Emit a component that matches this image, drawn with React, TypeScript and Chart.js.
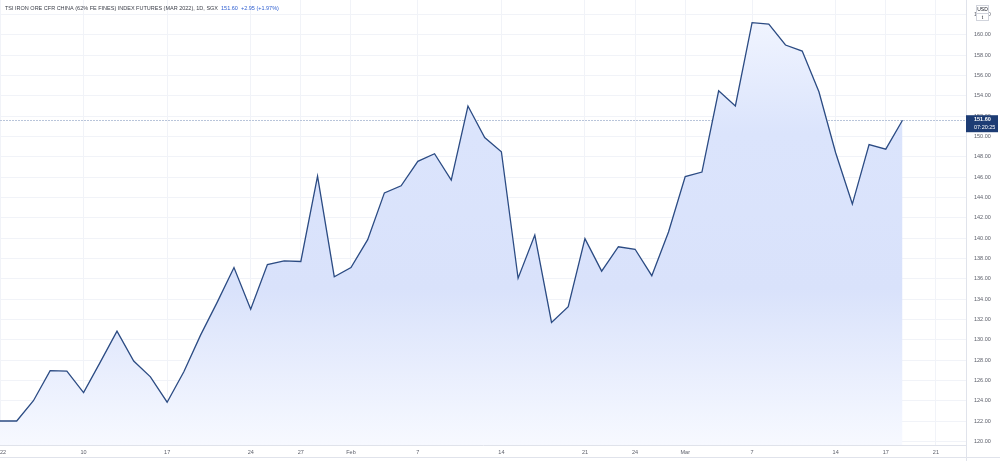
import React, { useEffect, useRef } from "react";
import { Chart, registerables } from "chart.js";

Chart.register(...registerables);

// ---- data ----
const tradingDays: string[] = [
  "Jan 3", "Jan 4", "Jan 5", "Jan 6", "Jan 7",
  "Jan 10", "Jan 11", "Jan 12", "Jan 13", "Jan 14",
  "Jan 17", "Jan 18", "Jan 19", "Jan 20", "Jan 21",
  "Jan 24", "Jan 25", "Jan 26", "Jan 27", "Jan 28",
  "Jan 31", "Feb 1", "Feb 2", "Feb 3", "Feb 4",
  "Feb 7", "Feb 8", "Feb 9", "Feb 10", "Feb 11",
  "Feb 14", "Feb 15", "Feb 16", "Feb 17", "Feb 18",
  "Feb 21", "Feb 22", "Feb 23", "Feb 24", "Feb 25",
  "Feb 28", "Mar 1", "Mar 2", "Mar 3", "Mar 4",
  "Mar 7", "Mar 8", "Mar 9", "Mar 10", "Mar 11",
  "Mar 14", "Mar 15", "Mar 16", "Mar 17", "Mar 18",
];
const closePrices: number[] = [
  122.0, 122.0, 124.0, 126.95, 126.9,
  124.8, 127.8, 130.85, 127.9, 126.35,
  123.85, 126.85, 130.45, 133.7, 137.1,
  133.0, 137.4, 137.75, 137.7, 146.1,
  136.2, 137.1, 139.85, 144.45, 145.15,
  147.55, 148.3, 145.7, 153.0, 149.9,
  148.5, 136.05, 140.3, 131.7, 133.25,
  139.95, 136.75, 139.15, 138.9, 136.3,
  140.6, 146.05, 146.5, 154.5, 153.0,
  161.2, 161.05, 159.0, 158.4, 154.4,
  148.4, 143.35, 149.2, 148.75, 151.6,
];
const xTickIndex: number[] = [0, 5, 10, 15, 18, 21, 25, 30, 35, 38, 41, 45, 50, 53, 56];
const xTickLabels: string[] = ["2022", "10", "17", "24", "27", "Feb", "7", "14", "21", "24", "Mar", "7", "14", "17", "21"];
const yTickValues: number[] = [120, 122, 124, 126, 128, 130, 132, 134, 136, 138, 140, 142, 144, 146, 148, 150, 152, 154, 156, 158, 160, 162];
const titleText = "TSI IRON ORE CFR CHINA (62% FE FINES) INDEX FUTURES (MAR 2022), 1D, SGX";
const quoteText = "151.60  +2.95 (+1.97%)";
const lastPrice = 151.6;
const countdown = "07:20:25";
const currency = "USD";
const unit = "t";

const X_MAX = 57.8;
const Y_MIN = 119.64;
const Y_MAX = 163.43;
const FONT = "'Liberation Sans', Arial, sans-serif";
const FS = 5.5;

export default function App() {
  const ref = useRef<HTMLCanvasElement | null>(null);

  useEffect(() => {
    if (!ref.current) return;
    document.body.style.margin = "0";

    const overlay = {
      id: "overlay",
      beforeDatasetsDraw(chart: any) {
        const { ctx, chartArea } = chart;
        const y = chart.scales.y.getPixelForValue(lastPrice);
        ctx.save();
        ctx.strokeStyle = "#b9c5da";
        ctx.lineWidth = 1;
        ctx.setLineDash([2, 1]);
        ctx.beginPath();
        ctx.moveTo(chartArea.left, Math.round(y) + 0.5);
        ctx.lineTo(chartArea.right, Math.round(y) + 0.5);
        ctx.stroke();
        ctx.restore();
      },
      afterDraw(chart: any) {
        const { ctx, chartArea, width } = chart;
        const y = chart.scales.y.getPixelForValue(lastPrice);
        ctx.save();
        // bottom frame line
        ctx.strokeStyle = "#e0e3eb";
        ctx.lineWidth = 1;
        ctx.beginPath();
        ctx.moveTo(0, 457.5);
        ctx.lineTo(width, 457.5);
        ctx.moveTo(Math.round(chartArea.right) + 0.5, chartArea.bottom);
        ctx.lineTo(Math.round(chartArea.right) + 0.5, 461);
        ctx.stroke();
        // price label
        const bx = chartArea.right;
        const by = y - 5;
        ctx.fillStyle = "#1d3c74";
        ctx.fillRect(bx, by, 32, 17);
        ctx.fillStyle = "#ffffff";
        ctx.font = `bold ${FS}px ${FONT}`;
        ctx.textBaseline = "middle";
        ctx.textAlign = "left";
        ctx.fillText(lastPrice.toFixed(2), bx + 8, by + 4.5);
        ctx.font = `${FS}px ${FONT}`;
        ctx.fillText(countdown, bx + 8, by + 12);
        // currency box
        ctx.fillStyle = "#ffffff";
        ctx.fillRect(976, 5, 13, 16);
        ctx.strokeStyle = "#d1d4dc";
        ctx.strokeRect(976.5, 5.5, 12, 15);
        ctx.beginPath();
        ctx.moveTo(976.5, 13.5);
        ctx.lineTo(988.5, 13.5);
        ctx.stroke();
        ctx.fillStyle = "#131722";
        ctx.font = `${FS - 0.5}px ${FONT}`;
        ctx.textAlign = "center";
        ctx.fillText(currency, 982.5, 9.5);
        ctx.fillText(unit, 982.5, 17.5);
        // title
        ctx.textAlign = "left";
        ctx.font = `${FS}px ${FONT}`;
        ctx.fillStyle = "#3b3e48";
        ctx.fillText(titleText, 5, 8);
        const w = ctx.measureText(titleText + "  ").width;
        ctx.fillStyle = "#2f5fd0";
        ctx.fillText(quoteText, 5 + w, 8);
        ctx.restore();
      },
    };

    const chart = new Chart(ref.current, {
      type: "line",
      data: {
        datasets: [
          {
            label: "Close",
            data: closePrices.map((v, i) => ({ x: i, y: v })),
            borderColor: "#2b4b83",
            borderWidth: 1.3,
            pointRadius: 0,
            tension: 0,
            fill: "start",
            backgroundColor: (c: any) => {
              const { chart: ch } = c;
              const area = ch.chartArea;
              if (!area) return "rgba(210,222,252,0.8)";
              const g = ch.ctx.createLinearGradient(0, area.top, 0, area.bottom);
              g.addColorStop(0, "#f4f7ff");
              g.addColorStop(0.3, "#dbe4fc");
              g.addColorStop(0.65, "#d9e2fb");
              g.addColorStop(1, "#f7f9ff");
              return g;
            },
          },
        ],
      },
      options: {
        responsive: false,
        devicePixelRatio: 1,
        animation: false,
        layout: { padding: { left: 0, right: 0, top: 0, bottom: 4 } },
        plugins: { legend: { display: false }, tooltip: { enabled: false }, title: { display: false } },
        scales: {
          x: {
            type: "linear",
            min: 0,
            max: X_MAX,
            grid: { color: "#f1f3f8", drawTicks: false },
            border: { display: true, color: "#e0e3eb" },
            afterBuildTicks: (s: any) => {
              s.ticks = xTickIndex.map((v) => ({ value: v }));
            },
            afterFit: (s: any) => {
              s.height = 12;
              s.paddingLeft = 0;
              s.paddingRight = 0;
            },
            ticks: {
              autoSkip: false,
              maxRotation: 0,
              padding: 4,
              color: "#5d606b",
              font: { family: FONT, size: FS },
              callback: (v: any) => {
                const k = xTickIndex.indexOf(Number(v));
                return k >= 0 ? xTickLabels[k] : "";
              },
            },
          },
          y: {
            type: "linear",
            position: "right",
            min: Y_MIN,
            max: Y_MAX,
            grid: { color: "#f1f3f8", drawTicks: false },
            border: { display: true, color: "#e0e3eb" },
            afterBuildTicks: (s: any) => {
              s.ticks = yTickValues.map((v) => ({ value: v }));
            },
            afterFit: (s: any) => {
              s.width = 34;
              s.paddingTop = 0;
              s.paddingBottom = 0;
            },
            ticks: {
              autoSkip: false,
              padding: 8,
              color: "#5d606b",
              font: { family: FONT, size: FS },
              callback: (v: any) => Number(v).toFixed(2),
            },
          },
        },
      },
      plugins: [overlay],
    });
    return () => chart.destroy();
  }, []);

  return (
    <div style={{ position: "absolute", left: 0, top: 0, width: 1000, height: 461, background: "#fff" }}>
      <canvas ref={ref} width={1000} height={461} style={{ display: "block", width: 1000, height: 461 }} />
    </div>
  );
}
